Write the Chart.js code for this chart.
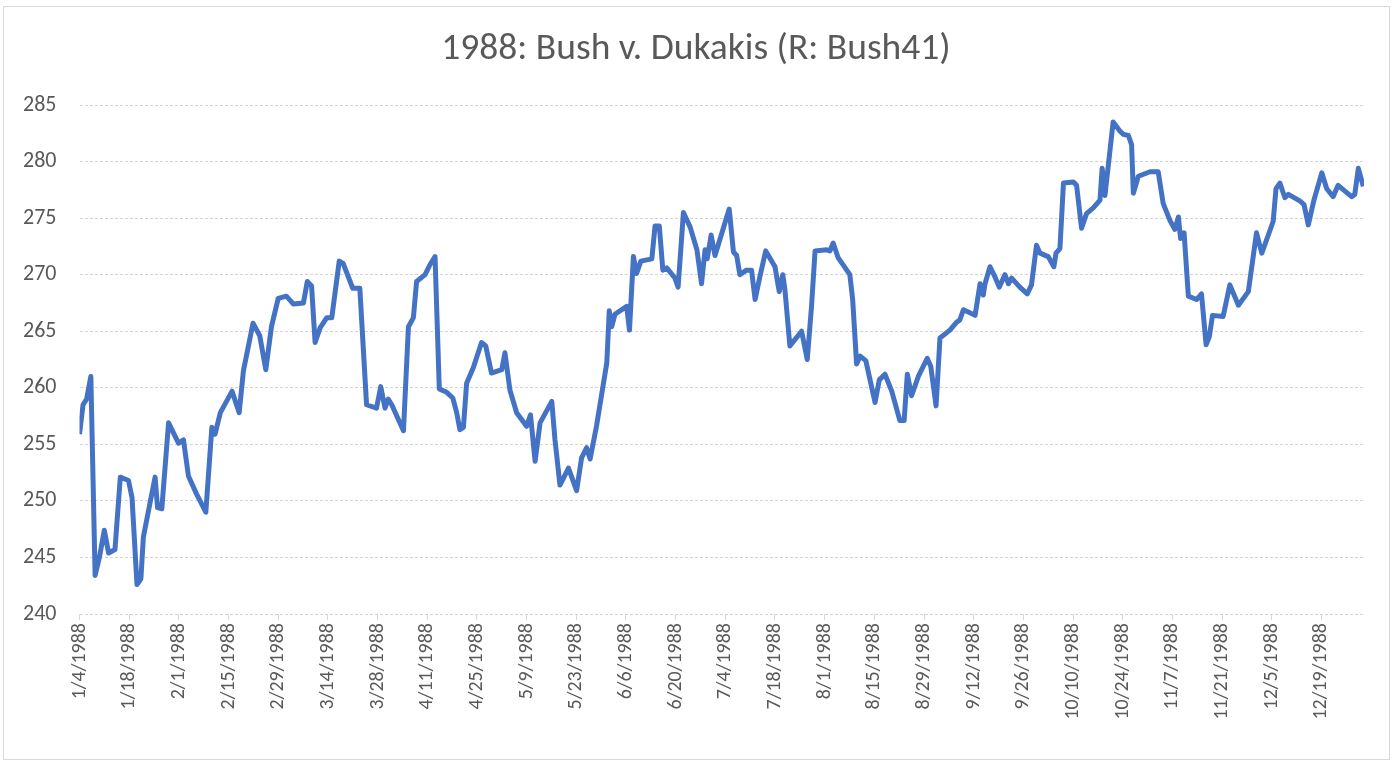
<!DOCTYPE html>
<html lang="en">
<head>
    <meta charset="UTF-8">
    <title>1988: Bush v. Dukakis</title>
    <script src="https://cdn.jsdelivr.net/npm/chart.js"></script>
    <style>
        body { margin: 0; background: #fff; }
        #wrap { width: 1392px; height: 762px; }
    </style>
</head>
<body>
<div id="wrap"><canvas id="myChart"></canvas></div>

<script>
    // days after 1/4/1988
    const days = [
        0, 1, 2, 3.2, 4.4, 5.6, 7, 8.2, 10, 11.5, 13.8, 14.8, 16.2, 17.3, 18, 21.3, 22, 23.2, 25.1, 27.9,
        29.3, 30.7, 33, 35.6, 37.3, 38.2, 39.7, 43, 45, 46.2, 48.9, 50.8, 52.5, 54.1, 56, 58.3, 60.3, 63.1,
        64.2, 65.4, 66.4, 67.8, 69.7, 71.1, 73.2, 74.3, 77, 79, 80.9, 83.7, 84.9, 86.1, 87, 88, 91.3, 92.7,
        94.1, 95, 97.4, 98.8, 100.2, 101.4, 103.5, 105.2, 106.3, 107.2, 108.2, 109.1, 111, 113.3, 114.5,
        116.1, 119, 119.9, 121.3, 123.2, 126, 127.1, 128.4, 129.8, 133.1, 134, 135.4, 137.8, 140.1, 141.5,
        142.9, 143.9, 145.7, 148.6, 149.3, 150, 150.9, 154.2, 155, 156.1, 157, 158.2, 161.3, 162.2, 163.4,
        164.4, 165.5, 167.8, 168.7, 170.2, 172.1, 174, 175.3, 176.3, 176.9, 178, 179.1, 183.1, 184.3, 185.2,
        186.1, 188, 189.4, 190.4, 191.8, 193.4, 196, 197.2, 198.2, 198.8, 200.2, 203.5, 205.1, 206.3, 207.3,
        210.6, 211.5, 212.4, 213.8, 217.1, 217.9, 219, 220, 221.6, 224.2, 225.4, 227, 228.9, 231.2, 232.4,
        233.3, 234.5, 236.4, 238.9, 239.9, 241.4, 242.5, 245.3, 247.2, 248.1, 249.1, 250.5, 252.4, 253.8,
        254.7, 255.2, 256.6, 258, 259.2, 260.8, 261.8, 262.7, 265, 267.1, 268.3, 269.7, 270.7, 273, 274.6,
        275.2, 276.3, 277.3, 280.1, 281, 282.4, 283.8, 285.7, 287.6, 288.2, 289, 291.3, 293.2, 294.2, 295.6,
        296.5, 297, 298.4, 301.7, 304, 305.4, 307.3, 308.7, 309.7, 310.3, 311.3, 312.5, 314.8, 316.2, 317.5,
        318.4, 319.3, 322.3, 324.2, 326.6, 329.4, 331.7, 333.2, 336.4, 337.2, 338.3, 339.7, 340.7, 344, 345.1,
        346.3, 347.9, 350.1, 351.5, 353.3, 354.7, 358.5, 359.4, 360.4, 361.8
    ];
    const votes = [
        255.9, 258.5, 259, 261, 243.4, 245, 247.4, 245.4, 245.7, 252.1, 251.8, 250.3, 242.6, 243.1, 246.8, 252.1, 249.4, 249.3, 256.9, 255.1,
        255.4, 252.2, 250.6, 249, 256.5, 255.9, 257.8, 259.7, 257.8, 261.5, 265.7, 264.6, 261.6, 265.4, 267.9, 268.1, 267.4, 267.5,
        269.4, 269, 264, 265.3, 266.2, 266.2, 271.2, 271, 268.8, 268.8, 258.5, 258.2, 260.1, 258.2, 259, 258.5, 256.2, 265.4,
        266.2, 269.4, 270, 270.9, 271.6, 259.9, 259.6, 259.1, 257.8, 256.3, 256.5, 260.4, 261.8, 264, 263.7,
        261.3, 261.6, 263.1, 259.8, 257.8, 256.6, 257.6, 253.5, 256.9, 258.8, 255.4, 251.4, 252.9, 250.9, 253.8,
        254.7, 253.7, 256.6, 262.2, 266.8, 265.4, 266.5, 267.2, 265.1, 271.6, 270.1, 271.2, 271.4, 274.3, 274.3,
        270.4, 270.6, 269.7, 268.9, 275.5, 274.2, 272.2, 269.2, 272.2, 271.4, 273.5, 271.7, 275.8, 272, 271.7,
        270, 270.4, 270.4, 267.8, 269.9, 272.1, 270.7, 268.5, 270, 268.7, 263.7, 265, 262.5, 267.2, 272.1,
        272.2, 272.1, 272.8, 271.5, 270, 267.8, 262.1, 262.8, 262.4, 258.7, 260.7, 261.2, 259.7, 257.1, 257.1,
        261.2, 259.3, 261, 262.6, 261.9, 258.4, 264.4, 265.1, 265.8, 266, 266.9, 266.7, 266.4, 269.2,
        268.2, 269.2, 270.7, 269.8, 268.9, 270, 269.2, 269.7, 268.9, 268.3, 269.1, 272.6, 271.9, 271.6, 270.7,
        271.9, 272.3, 278.1, 278.2, 277.9, 274.1, 275.4, 275.9, 276.6, 279.4, 277, 283.5, 282.7, 282.4, 282.3,
        281.5, 277.2, 278.7, 279.1, 279.1, 276.3, 274.8, 274, 275.1, 273.2, 273.7, 268.1, 267.8, 268.3, 263.8,
        264.5, 266.4, 266.3, 269.1, 267.3, 268.5, 273.7, 271.9, 274.7, 277.6, 278.1, 276.8, 277.1, 276.5, 276.2,
        274.4, 276.6, 279, 277.6, 276.9, 277.9, 276.9, 277.1, 279.4, 277.8
    ];
    // one label every 14 days
    const tickLabels = [
        '1/4/1988', '1/18/1988', '2/1/1988', '2/15/1988', '2/29/1988', '3/14/1988', '3/28/1988',
        '4/11/1988', '4/25/1988', '5/9/1988', '5/23/1988', '6/6/1988', '6/20/1988', '7/4/1988',
        '7/18/1988', '8/1/1988', '8/15/1988', '8/29/1988', '9/12/1988', '9/26/1988', '10/10/1988',
        '10/24/1988', '11/7/1988', '11/21/1988', '12/5/1988', '12/19/1988'
    ];

    const fontFamily = 'Carlito, Calibri, Lato, sans-serif';

    const frame = {
        id: 'frame',
        beforeDraw(chart) {
            const c = chart.ctx;
            c.save();
            c.fillStyle = '#fff';
            c.fillRect(0, 0, chart.width, chart.height);
            c.strokeStyle = '#d9d9d9';
            c.lineWidth = 1;
            c.strokeRect(3.5, 6.5, 1386, 753);
            c.restore();
        }
    };

    const ctx = document.getElementById('myChart').getContext('2d');
    new Chart(ctx, {
        type: 'line',
        data: {
            datasets: [{
                label: 'R: Bush41',
                data: days.map((d, i) => ({x: d, y: votes[i]})),
                borderColor: '#4472C4',
                borderWidth: 5,
                borderJoinStyle: 'round',
                pointRadius: 0,
                tension: 0
            }]
        },
        options: {
            responsive: true,
            maintainAspectRatio: false,
            animation: false,
            layout: {padding: {left: 14, right: 14, top: 0, bottom: 0}},
            plugins: {
                legend: {display: false},
                tooltip: {enabled: false},
                title: {
                    display: true,
                    text: '1988: Bush v. Dukakis (R: Bush41)',
                    color: '#595959',
                    font: {family: fontFamily, size: 37.5, weight: 'normal', lineHeight: 1.2},
                    padding: {top: 27, bottom: 33}
                }
            },
            scales: {
                x: {
                    type: 'linear',
                    min: 0,
                    max: 362,
                    afterFit(scale) { scale.height = 148; },
                    grid: {drawOnChartArea: false, drawTicks: true, tickLength: 6, tickColor: '#d9d9d9'},
                    border: {display: false},
                    ticks: {
                        stepSize: 14,
                        includeBounds: false,
                        autoSkip: false,
                        maxRotation: 90,
                        minRotation: 90,
                        padding: 3,
                        color: '#595959',
                        font: {family: fontFamily, size: 20},
                        callback: v => tickLabels[Math.round(v / 14)] || ''
                    }
                },
                y: {
                    min: 240,
                    max: 285,
                    afterFit(scale) { scale.width = 65.5; },
                    grid: {color: '#d4d4d4', drawTicks: false},
                    border: {display: false, dash: [3, 2]},
                    ticks: {
                        stepSize: 5,
                        padding: 23,
                        color: '#595959',
                        font: {family: fontFamily, size: 22}
                    }
                },
                // empty right-hand margin so the title stays centred on the page
                yRight: {
                    position: 'right',
                    min: 240,
                    max: 285,
                    afterFit(scale) { scale.width = 14; },
                    grid: {display: false},
                    border: {display: false},
                    ticks: {display: false}
                }
            }
        },
        plugins: [frame]
    });
</script>
</body>
</html>
